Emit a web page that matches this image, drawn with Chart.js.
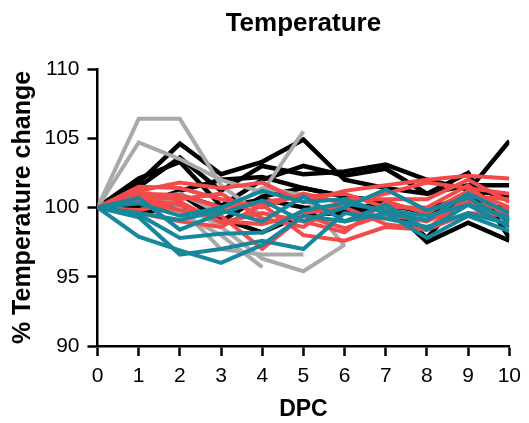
<!DOCTYPE html>
<html>
<head>
<meta charset="utf-8">
<title>Temperature</title>
<script src="https://cdn.jsdelivr.net/npm/chart.js@4"></script>
<style>
  html, body { margin: 0; padding: 0; background: #fff; }
  #wrap { width: 529px; height: 423px; }
</style>
</head>
<body>
<div id="wrap"><canvas id="tempChart" width="529" height="423"></canvas></div>
<script>
// days post challenge
const dpc = [0, 1, 2, 3, 4, 5, 6, 7, 8, 9, 10];
const yTicks = [90, 95, 100, 105, 110];

// % temperature change per animal, grouped by colour
const grayA = [100, 106.4, 106.4, 101.6, 99.4];
const grayB = [100, 104.7, 103.5, 102.0, 101.1, 105.5];
const grayC = [100, 101.4, 100.0, 97.0, 96.6, 96.6];
const grayD = [100, 100.8, 99.6, 98.0, 95.7];
const grayE = [100, 101.2, 100.3, 98.6, 96.3, 95.4, 97.3];
const grayF = [100, 100.4, 101.0, 99.6, 101.4, 100.9, 97.2];

const tealA = [100, 97.9, 96.9, 96.0, 97.3, 99.4, 99.0, 99.6, 97.8, 99.4, 98.3];
const tealB = [100, 99.3, 96.6, 97.0, 97.6, 97.0, 99.6, 99.2, 98.6, 99.6, 98.8];
const tealC = [100, 99.5, 97.8, 98.1, 98.2, 99.8, 100.3, 99.8, 99.4, 100.2, 99.3];
const tealD = [100, 100.7, 98.4, 99.6, 100.5, 99.0, 100.0, 101.3, 99.8, 100.7, 99.0];
const tealE = [100, 99.6, 99.1, 99.8, 99.0, 100.8, 99.0, 100.2, 98.4, 100.2, 98.6];
const tealF = [100, 100.3, 99.4, 100.0, 101.2, 100.4, 100.6, 99.6, 99.1, 101.0, 99.6];

const redA = [100, 101.2, 101.8, 101.4, 101.8, 100.4, 101.2, 101.6, 102.0, 102.3, 102.1];
const redB = [100, 101.5, 101.4, 100.6, 100.0, 101.0, 100.3, 101.0, 101.8, 101.4, 101.0];
const redC = [100, 100.8, 100.6, 101.0, 99.2, 98.6, 100.6, 100.6, 100.6, 102.0, 100.4];
const redD = [100, 100.4, 99.8, 99.4, 97.0, 99.4, 98.5, 99.5, 99.0, 100.4, 99.8];
const redE = [100, 99.6, 99.0, 98.6, 100.2, 98.0, 97.6, 98.6, 98.4, 99.6, 99.4];
const redF = [100, 100.6, 100.2, 99.0, 98.8, 99.6, 100.0, 98.8, 98.4, 100.8, 100.6];
const redG = [100, 101.0, 100.9, 100.0, 100.4, 100.8, 101.0, 100.0, 100.0, 101.6, 99.2];
const redH = [100, 99.8, 100.4, 98.9, 99.6, 99.0, 98.2, 100.4, 99.6, 101.2, 100.0];

const blackA = [100, 101.8, 104.6, 102.4, 103.3, 104.9, 102.0, 101.4, 101.0, 101.6, 101.6];
const blackB = [100, 101.5, 103.6, 101.2, 103.0, 102.4, 102.6, 103.1, 102.0, 101.3, 100.8];
const blackC = [100, 102.1, 103.3, 100.1, 102.0, 103.0, 102.3, 102.8, 101.0, 102.5, 97.8];
const blackD = [100, 100.2, 101.2, 102.0, 102.2, 101.4, 100.8, 100.4, 99.5, 100.3, 99.9];
const blackE = [100, 99.7, 101.0, 99.0, 100.8, 101.4, 100.8, 100.4, 97.8, 101.2, 104.8];
const blackF = [100, 99.6, 100.0, 99.2, 98.2, 99.5, 99.6, 100.0, 99.9, 100.8, 99.0];
const blackG = [100, 100.1, 100.9, 100.0, 100.6, 100.0, 99.9, 100.3, 97.5, 98.9, 97.6];

const TEAL = '#17879b';
const RED = '#f34a4a';
const GRAY = '#a9a9ab';
const BLACK = '#000000';
const FONT = "'Liberation Sans', Arial, Helvetica, sans-serif";

// pair each value with its day
function series(vals, color, width) {
    return {
        data: vals.map((v, i) => ({ x: dpc[i], y: v })),
        borderColor: color,
        borderWidth: width,
        pointRadius: 0,
        tension: 0,
        fill: false
    };
}

const datasets = [
    ...[tealA, tealB, tealC, tealD, tealE, tealF].map(v => series(v, TEAL, 4)),
    ...[redA, redB, redC, redD, redE, redF, redG, redH].map(v => series(v, RED, 4)),
    ...[grayA, grayB, grayC, grayD, grayE, grayF].map(v => series(v, GRAY, 4)),
    ...[blackA, blackB, blackC, blackD, blackE, blackF, blackG].map(v => series(v, BLACK, 4.5))
];

// title centred over the plot area rather than the whole canvas
const plotTitle = {
    id: 'plotTitle',
    afterDraw(chart) {
        const { ctx, chartArea } = chart;
        ctx.save();
        ctx.fillStyle = '#000';
        ctx.font = 'bold 26px ' + FONT;
        ctx.textAlign = 'center';
        ctx.textBaseline = 'alphabetic';
        ctx.fillText('Temperature', (chartArea.left + chartArea.right) / 2, 31);
        ctx.restore();
    }
};

new Chart(document.getElementById('tempChart'), {
    type: 'line',
    data: { datasets },
    plugins: [plotTitle],
    options: {
        responsive: false,
        animation: false,
        layout: { padding: { left: 0, right: 16, top: 69, bottom: 0 } },
        plugins: {
            legend: { display: false },
            tooltip: { enabled: false },
            title: { display: false }
        },
        scales: {
            x: {
                type: 'linear',
                min: dpc[0],
                max: dpc[dpc.length - 1],
                afterBuildTicks: s => { s.ticks = dpc.map(v => ({ value: v })); },
                afterFit: s => { s.height = 77; },
                grid: { drawOnChartArea: false, tickLength: 10, tickWidth: 2.5, tickColor: '#000' },
                border: { color: '#000', width: 2.5 },
                ticks: { color: '#000', padding: 8, font: { family: FONT, size: 21 } },
                title: {
                    display: true,
                    text: 'DPC',
                    color: '#000',
                    font: { family: FONT, size: 23, weight: 'bold' },
                    padding: { top: 0, bottom: 0 }
                }
            },
            y: {
                min: yTicks[0],
                max: yTicks[yTicks.length - 1],
                afterBuildTicks: s => { s.ticks = yTicks.map(v => ({ value: v })); },
                afterFit: s => { s.width = 97.5; },
                grid: { drawOnChartArea: false, tickLength: 10, tickWidth: 2.5, tickColor: '#000' },
                border: { color: '#000', width: 2.5 },
                ticks: { color: '#000', padding: 8, font: { family: FONT, size: 21 } },
                title: {
                    display: true,
                    text: '% Temperature change',
                    color: '#000',
                    font: { family: FONT, size: 25, weight: 'bold' },
                    padding: { top: 8, bottom: 0 }
                }
            }
        }
    }
});
</script>
</body>
</html>
